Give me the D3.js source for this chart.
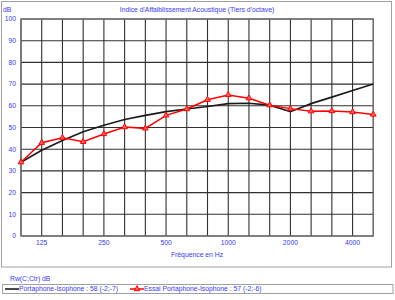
<!DOCTYPE html>
<html><head><meta charset="utf-8">
<script src="https://cdn.jsdelivr.net/npm/d3@7"></script>
<style>html,body{margin:0;padding:0;background:#fff;}svg{display:block;}text{font-family:"Liberation Sans",Arial,sans-serif;fill:#3838ff;}</style>
</head><body>
<script>
const freqs = ["100","125","160","200","250","315","400","500","630","800","1000","1250","1600","2000","2500","3150","4000","5000"];
const tickLabels = ["125","250","500","1000","2000","4000"];
const yTicks = [0,10,20,30,40,50,60,70,80,90,100];
const portaphone = [34,39.5,44,48,51,53.7,55.6,57.3,58.5,59.7,61,61.2,60.3,57.3,61,64,67,70];
const essai = [34,43,45.3,43.4,47,50.2,49.6,55.6,58.5,62.8,65,63.5,60.3,58.7,57.5,57.6,57.1,56];
const seriesNames = ["Portaphone-Isophone :  58 (-2;-7)","Essai Portaphone-Isophone :  57 (-2;-6)"];
const title = "Indice d'Affaiblissement Acoustique (Tiers d'octave)";
const xTitle = "Fréquence en Hz";
const yUnit = "dB";
const legendTitle = "Rw(C;Ctr)  dB";

const W=395,H=300;
const svg=d3.select("body").append("svg").attr("width",W).attr("height",H);
const fs=6.8;

// outer frame
svg.append("rect").attr("x",1.5).attr("y",1.5).attr("width",390).attr("height",265.5)
  .attr("fill","none").attr("stroke","#a0a0a0").attr("stroke-width",1);

const x=d3.scalePoint().domain(freqs).range([21,373.3]);
const y=d3.scaleLinear().domain([0,100]).range([236,19]);

const g=svg.append("g");
// grid
g.selectAll(".hg").data(yTicks).enter().append("line")
  .attr("x1",x.range()[0]).attr("x2",x.range()[1])
  .attr("y1",d=>y(d)).attr("y2",d=>y(d))
  .attr("stroke","#303030").attr("stroke-width",1.1);
g.selectAll(".vg").data(freqs).enter().append("line")
  .attr("x1",d=>x(d)).attr("x2",d=>x(d))
  .attr("y1",y(0)).attr("y2",y(100))
  .attr("stroke","#303030").attr("stroke-width",1.1);
// plot border
g.append("rect").attr("x",x.range()[0]).attr("y",y(100))
  .attr("width",x.range()[1]-x.range()[0]).attr("height",y(0)-y(100))
  .attr("fill","none").attr("stroke","#707070").attr("stroke-width",1.3);

// axes labels
svg.selectAll(".yl").data(yTicks).enter().append("text")
  .attr("x",16).attr("y",d=>y(d)).attr("dy","0.35em").attr("text-anchor","end")
  .attr("font-size",fs).text(d=>d);
svg.selectAll(".xl").data(tickLabels).enter().append("text")
  .attr("x",d=>x(d)).attr("y",243).attr("dy","0.35em").attr("text-anchor","middle")
  .attr("font-size",fs).text(d=>d);
svg.append("text").attr("x",197).attr("y",254.5).attr("dy","0.35em").attr("text-anchor","middle")
  .attr("font-size",fs).text(xTitle);
svg.append("text").attr("x",197).attr("y",10).attr("dy","0.35em").attr("text-anchor","middle")
  .attr("font-size",fs).text(title);
svg.append("text").attr("x",3).attr("y",10).attr("dy","0.35em")
  .attr("font-size",fs).text(yUnit);

// lines
const line=d3.line().x((d,i)=>x(freqs[i])).y(d=>y(d));
svg.append("path").datum(portaphone).attr("d",line).attr("fill","none")
  .attr("stroke","#1a1a1a").attr("stroke-width",1.6);
svg.append("path").datum(essai).attr("d",line).attr("fill","none")
  .attr("stroke","#ff0000").attr("stroke-width",1.5);
const tri=d3.symbol().type(d3.symbolTriangle).size(14);
svg.selectAll(".mk").data(essai).enter().append("path")
  .attr("d",tri).attr("transform",(d,i)=>`translate(${x(freqs[i])},${y(d)})`)
  .attr("fill","#ff6060").attr("stroke","#ff0000").attr("stroke-width",1);

// legend
svg.append("text").attr("x",10).attr("y",279).attr("dy","0.35em").attr("font-size",fs).text(legendTitle);
svg.append("rect").attr("x",2.5).attr("y",284.5).attr("width",390.5).attr("height",9)
  .attr("fill","none").attr("stroke","#a0a0a0").attr("stroke-width",1);
const ly=289;
svg.append("line").attr("x1",5).attr("x2",19).attr("y1",ly).attr("y2",ly).attr("stroke","#1a1a1a").attr("stroke-width",1.6);
svg.append("text").attr("x",19).attr("y",ly).attr("dy","0.35em").attr("font-size",fs).text(seriesNames[0]);
svg.append("line").attr("x1",130).attr("x2",144).attr("y1",ly).attr("y2",ly).attr("stroke","#ff0000").attr("stroke-width",1.5);
svg.append("path").attr("d",tri).attr("transform",`translate(137,${ly})`)
  .attr("fill","#ff6060").attr("stroke","#ff0000").attr("stroke-width",1);
svg.append("text").attr("x",144).attr("y",ly).attr("dy","0.35em").attr("font-size",fs).text(seriesNames[1]);
</script>
</body></html>
